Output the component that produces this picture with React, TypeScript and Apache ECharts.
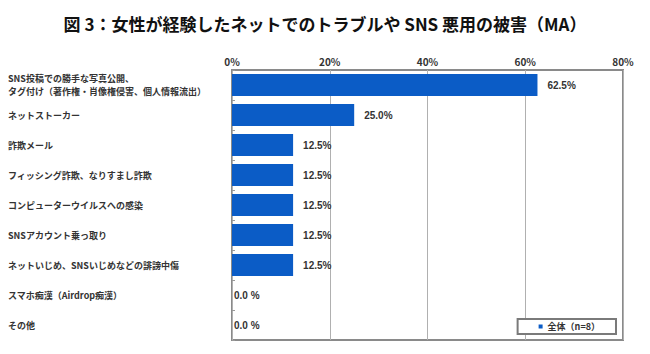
import React, { useEffect, useRef } from "react";
import * as echarts from "echarts";

const categories = [
  "SNS投稿での勝手な写真公開、\nタグ付け（著作権・肖像権侵害、個人情報流出）",
  "ネットストーカー",
  "詐欺メール",
  "フィッシング詐欺、なりすまし詐欺",
  "コンピューターウイルスへの感染",
  "SNSアカウント乗っ取り",
  "ネットいじめ、SNSいじめなどの誹謗中傷",
  "スマホ痴漢（Airdrop痴漢）",
  "その他",
];
const values = [62.5, 25.0, 12.5, 12.5, 12.5, 12.5, 12.5, 0.0, 0.0];
const seriesName = "全体（n=8）";
const titleText = "図 3：女性が経験したネットでのトラブルや SNS 悪用の被害（MA）";
const xTicks = { min: 0, max: 80, interval: 20 };

const JP = '"Noto Sans CJK JP", "Noto Sans", sans-serif';

export default function App() {
  const ref = useRef<HTMLDivElement>(null);
  useEffect(() => {
    if (!ref.current) return;
    const chart = echarts.init(ref.current, null, { renderer: "svg" });
    chart.setOption({
      animation: false,
      backgroundColor: "#ffffff",
      title: {
        text: titleText,
        left: "center",
        top: 10,
        textStyle: { fontFamily: JP, fontSize: 17, fontWeight: "bold", color: "#111" },
      },
      grid: {
        left: 232,
        right: 27,
        top: 70,
        bottom: 14,
        show: true,
        borderColor: "#8a8a8a",
        borderWidth: 2,
        backgroundColor: "#fff",
      },
      legend: {
        data: [seriesName],
        right: 34,
        bottom: 20,
        icon: "rect",
        itemWidth: 4,
        itemHeight: 4,
        itemGap: 4,
        borderColor: "#7a7a7a",
        borderWidth: 2,
        backgroundColor: "#fff",
        padding: [3, 16, 3, 21],
        textStyle: { fontFamily: JP, fontSize: 9, color: "#333", fontWeight: "bold" },
      },
      xAxis: {
        type: "value",
        position: "top",
        min: xTicks.min,
        max: xTicks.max,
        interval: xTicks.interval,
        axisLine: { show: false },
        axisTick: { show: false },
        axisLabel: {
          formatter: "{value}%",
          fontFamily: JP,
          fontSize: 10,
          fontWeight: "bold",
          color: "#333",
          margin: 4,
        },
        splitLine: { show: true, lineStyle: { color: "#b0b0b0", width: 1 } },
      },
      yAxis: {
        type: "category",
        data: categories,
        inverse: true,
        axisLine: { show: false },
        axisTick: { show: true, inside: true, length: 3, lineStyle: { color: "#999" } },
        axisLabel: {
          align: "left",
          margin: 224,
          fontFamily: JP,
          fontSize: 9,
          fontWeight: "bold",
          color: "#333",
          lineHeight: 13,
        },
      },
      series: [
        {
          name: seriesName,
          type: "bar",
          data: values.map((v) =>
            v === 0 ? { value: v, label: { distance: 2 } } : { value: v }
          ),
          barWidth: 22,
          itemStyle: { color: "#0b5cc6" },
          label: {
            show: true,
            position: "right",
            distance: 10,
            fontFamily: '"Liberation Sans", Arial, sans-serif',
            fontSize: 10,
            fontWeight: "bold",
            color: "#333",
            formatter: (p: any) => (p.value === 0 ? "0.0 %" : p.value.toFixed(1) + "%"),
          },
        },
      ],
    });
    return () => chart.dispose();
  }, []);
  return (
    <div
      ref={ref}
      style={{ position: "fixed", left: 0, top: 0, width: 650, height: 354, background: "#fff" }}
    />
  );
}
